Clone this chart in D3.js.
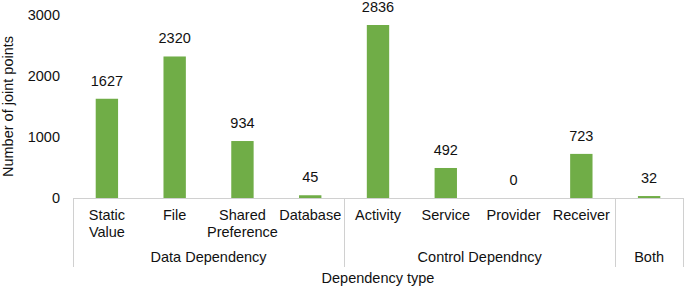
<!DOCTYPE html>
<html>
<head>
<meta charset="utf-8">
<script src="https://cdn.jsdelivr.net/npm/d3@7"></script>
<style>
  body { margin: 0; background: #fff; }
  text { font-family: "Liberation Sans", Arial, sans-serif; fill: #111; }
</style>
</head>
<body>
<div id="chart"></div>
<script>
const categories = ["Static Value", "File", "Shared Preference", "Database",
  "Activity", "Service", "Provider", "Receiver", "Both-bar"];
const categoryLines = [["Static", "Value"], ["File"], ["Shared", "Preference"], ["Database"],
  ["Activity"], ["Service"], ["Provider"], ["Receiver"], []];
const values = [1627, 2320, 934, 45, 2836, 492, 0, 723, 32];
const groups = ["Data Dependency", "Control Dependncy", "Both"];
const groupSizes = [4, 4, 1];
const yTicks = [0, 1000, 2000, 3000];

const width = 685, height = 287;
const margin = { top: 15, right: 2, bottom: 89, left: 73 };
const fs = 14.5;

const svg = d3.select("#chart").append("svg")
  .attr("width", width)
  .attr("height", height);

const x = d3.scaleBand()
  .domain(categories)
  .range([margin.left, width - margin.right])
  .paddingInner(0.67)
  .paddingOuter(0.335);

const y = d3.scaleLinear()
  .domain([0, 3000])
  .range([height - margin.bottom, margin.top]);

const baseY = y(0);
const step = x.step();
const x0 = margin.left;

// y tick labels
svg.append("g")
  .selectAll("text")
  .data(yTicks)
  .join("text")
  .attr("x", 60)
  .attr("y", d => y(d))
  .attr("dy", "0.35em")
  .attr("text-anchor", "end")
  .attr("font-size", fs)
  .text(d => d);

// y title
svg.append("text")
  .attr("transform", `translate(13,${(y(0) + y(3000)) / 2}) rotate(-90)`)
  .attr("text-anchor", "middle")
  .attr("font-size", fs)
  .text("Number of joint points");

// bars
svg.append("g")
  .selectAll("rect")
  .data(values)
  .join("rect")
  .attr("x", (d, i) => x(categories[i]))
  .attr("width", x.bandwidth())
  .attr("y", d => y(d))
  .attr("height", d => Math.max(0, baseY - y(d)))
  .attr("fill", "#70ad47");

// value labels
svg.append("g")
  .selectAll("text")
  .data(values)
  .join("text")
  .attr("x", (d, i) => x(categories[i]) + x.bandwidth() / 2)
  .attr("y", d => y(d) - 13)
  .attr("text-anchor", "middle")
  .attr("font-size", fs)
  .text(d => d);

// axis lines
const axis = svg.append("g")
  .attr("stroke", "#d0d0d0")
  .attr("stroke-width", 1);

axis.append("line")
  .attr("x1", x0).attr("x2", width - margin.right)
  .attr("y1", baseY + 0.5).attr("y2", baseY + 0.5);

let bounds = [0];
groupSizes.forEach(s => bounds.push(bounds[bounds.length - 1] + s));
axis.selectAll("line.sep")
  .data(bounds)
  .join("line")
  .attr("class", "sep")
  .attr("x1", d => Math.round(x0 + d * step) + 0.5)
  .attr("x2", d => Math.round(x0 + d * step) + 0.5)
  .attr("y1", baseY)
  .attr("y2", 267);

// category labels
const cat = svg.append("g")
  .selectAll("text")
  .data(categoryLines)
  .join("text")
  .attr("x", (d, i) => x(categories[i]) + x.bandwidth() / 2)
  .attr("y", 220)
  .attr("text-anchor", "middle")
  .attr("font-size", fs);
cat.selectAll("tspan")
  .data(d => d)
  .join("tspan")
  .attr("x", function () { return this.parentNode.getAttribute("x"); })
  .attr("dy", (d, i) => i === 0 ? 0 : 16.5)
  .text(d => d);

// group labels
svg.append("g")
  .selectAll("text")
  .data(groups)
  .join("text")
  .attr("x", (d, i) => x0 + (bounds[i] + bounds[i + 1]) / 2 * step)
  .attr("y", 262)
  .attr("text-anchor", "middle")
  .attr("font-size", fs)
  .text(d => d);

// x title
svg.append("text")
  .attr("x", (x0 + width - margin.right) / 2)
  .attr("y", 283)
  .attr("text-anchor", "middle")
  .attr("font-size", fs)
  .text("Dependency type");
</script>
</body>
</html>
